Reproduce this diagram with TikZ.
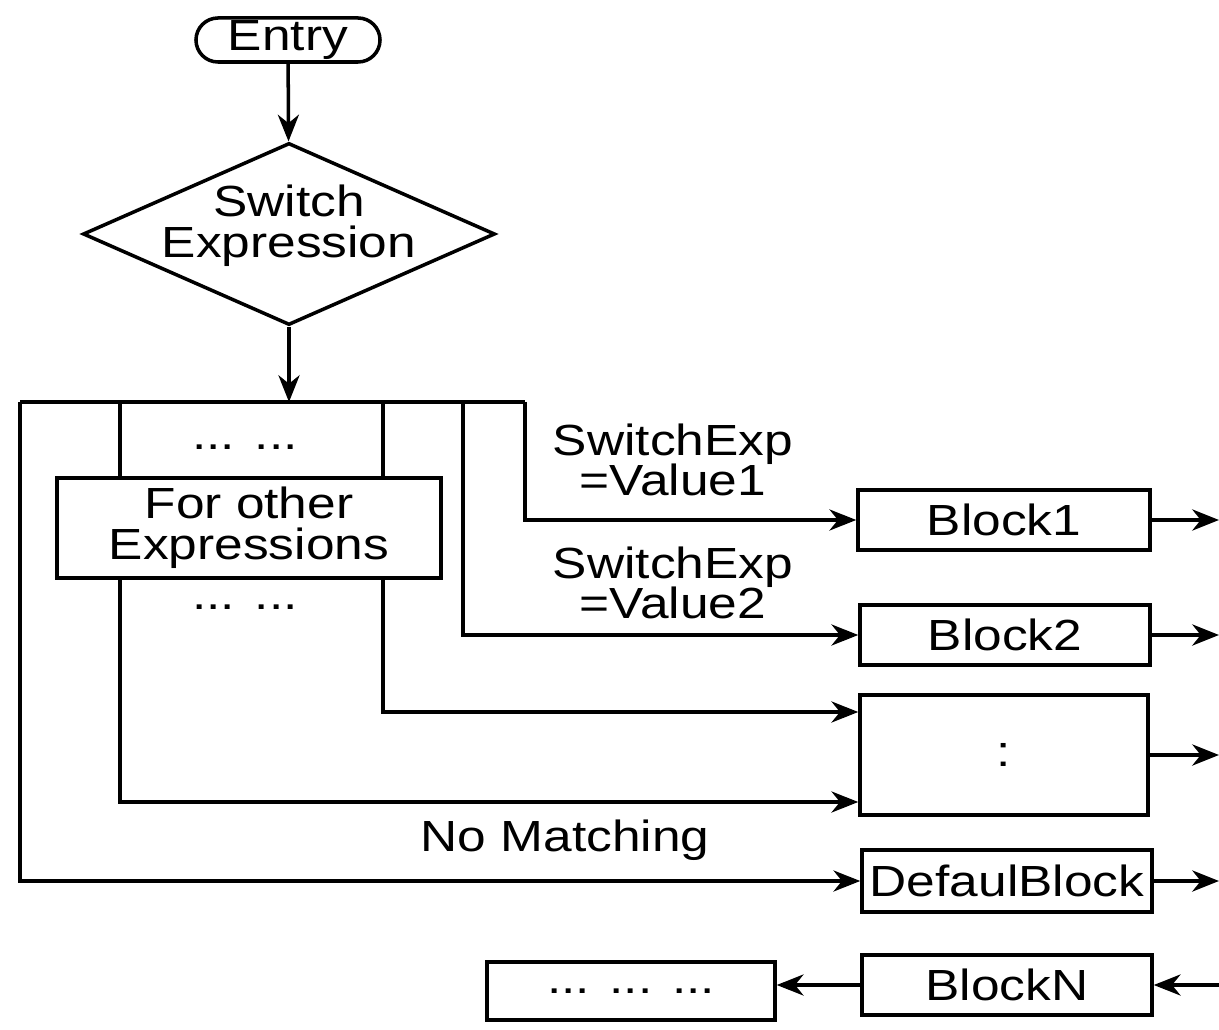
\documentclass[tikz,border=0pt]{standalone}
\usepackage{fontspec}
\setmainfont[FakeStretch=1.18]{Liberation Sans}
\usetikzlibrary{shapes.geometric,shapes.misc,arrows.meta,calc}
\begin{document}
\begin{tikzpicture}[x=0.025cm,y=-0.025cm,
  txt/.style={font=\fontsize{31}{29}\selectfont, align=center, inner sep=0pt},
  box/.style={draw, line width=2.5pt, fill=white, inner sep=0pt, txt},
  ln/.style={line width=2.5pt},
  arr/.style={line width=2.5pt, -{Stealth[length=19pt,width=15pt,inset=6pt]}}]
\useasboundingbox (0,0) rectangle (1219,1030);
\fill[white] (0,0) rectangle (1219,1030);
% right-side blocks
\node[box, minimum width={292*0.7113pt}, minimum height={60*0.7113pt}] (b1) at (1004,520) {Block1};
\node[box, minimum width={290*0.7113pt}, minimum height={60*0.7113pt}] (b2) at (1005,635) {Block2};
\node[box, minimum width={288*0.7113pt}, minimum height={120*0.7113pt}] (dots) at (1004,755) {:};
\node[box, minimum width={290*0.7113pt}, minimum height={62*0.7113pt}] (def) at (1007,881) {DefaulBlock};
\node[box, minimum width={290*0.7113pt}, minimum height={60*0.7113pt}] (bn) at (1007,985) {BlockN};
\node[box, minimum width={288*0.7113pt}, minimum height={58*0.7113pt}] (bdots) at (631,991) {...\hspace{14pt}...\hspace{14pt}...};
% entry and switch
\node[box, rounded rectangle, minimum width={184*0.7113pt}, minimum height={44*0.7113pt}] (entry) at (288,40) {Entry};
\node[draw, diamond, line width=2.5pt, inner sep=0pt, aspect=2.26, minimum width={412*0.7113pt}, minimum height={182*0.7113pt}] (sw) at (289,234) {};
\node[txt] (swt) at (289,226) {Switch\\Expression};
% coordinates
\coordinate (E) at (1219,0);
\coordinate (t20) at (20,402);
\coordinate (t120) at (120,402);
\coordinate (t383) at (383,402);
\coordinate (t463) at (463,402);
\coordinate (t525) at (525,402);
\coordinate (c712) at (0,712);
\coordinate (c802) at (0,802);
% connectors
\draw[arr] (entry) -- (sw);
\draw[ln] (t20) -- (t525);
\draw[arr] (sw.south) -- (sw.south |- t20);
\draw[arr] (t525) |- (b1.west);
\draw[arr] (t463) |- (b2.west);
\draw[arr] (t383) |- (dots.west |- c712);
\draw[arr] (t120) |- (dots.west |- c802);
\draw[arr] (t20) |- (def.west);
\draw[arr] (b1.east) -- (b1.east -| E);
\draw[arr] (b2.east) -- (b2.east -| E);
\draw[arr] (dots.east) -- (dots.east -| E);
\draw[arr] (def.east) -- (def.east -| E);
\draw[arr] (bn.east -| E) -- (bn.east);
\draw[arr] (bn.west) -- (bn.west -| bdots.east);
% inner box and texts
\node[box, minimum width={384*0.7113pt}, minimum height={100*0.7113pt}] (other) at (249,528) {For other\\Expressions};
\node[txt] (d1) at (245,447) {...\hspace{14pt}...};
\node[txt] (d2) at (245,607) {...\hspace{14pt}...};
\node[txt] (l1) at (673,460) {SwitchExp\\=Value1};
\node[txt] (l2) at (673,583) {SwitchExp\\=Value2};
\node[txt] (l3) at (565,840) {No Matching};
\end{tikzpicture}
\end{document}
